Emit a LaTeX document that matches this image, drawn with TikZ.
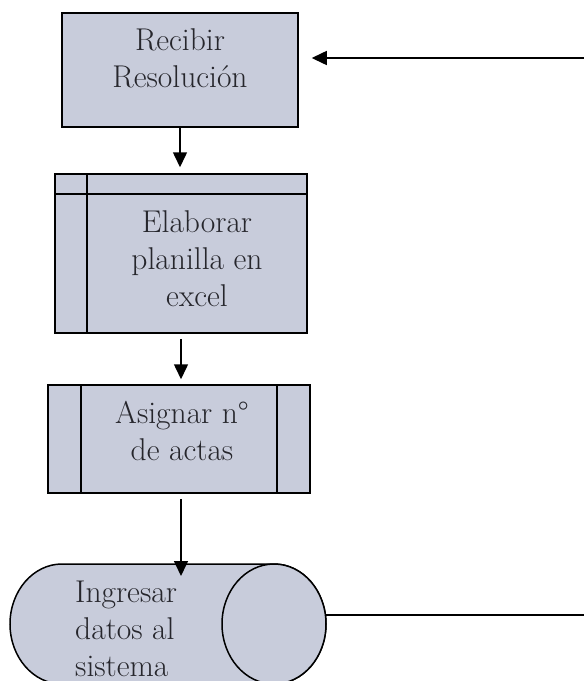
\documentclass[tikz,border=0pt]{standalone}
\usepackage{fontspec}
\usetikzlibrary{arrows.meta}
\definecolor{boxfill}{RGB}{200,204,219}
\definecolor{txt}{RGB}{38,38,44}
\newcommand{\blocktext}[2]{\parbox[t]{#1}{#2}}
\begin{document}
\begin{tikzpicture}[x=1pt,y=1pt,
  process/.style={draw=black, line width=1.5pt, fill=boxfill, inner sep=0pt},
  flow/.style={line width=1.5pt, -{Triangle[length=15pt,width=14pt]}},
  plain/.style={line width=1.5pt},
  label/.style={inner sep=0pt, anchor=base, text=txt, font=\fontsize{31.5}{37}\selectfont}]
\useasboundingbox (0,0) rectangle (584,-681);

% process boxes
\node[process, minimum width=236pt, minimum height=114pt] (recibir) at (180,-70) {};
\node[process, minimum width=252pt, minimum height=159pt] (planilla) at (181,-253.5) {};
\node[process, minimum width=262pt, minimum height=108pt] (asignar) at (179,-439) {};

% internal storage marks and predefined-process bars
\draw[plain] (87,0 |- planilla.north) -- (87,0 |- planilla.south);
\draw[plain] (planilla.west |- 0,-194) -- (planilla.east |- 0,-194);
\draw[plain] (81,0 |- asignar.north) -- (81,0 |- asignar.south);
\draw[plain] (277,0 |- asignar.north) -- (277,0 |- asignar.south);

% horizontal cylinder (database)
\draw[plain, fill=boxfill]
  (62,-564) -- (274,-564) arc[start angle=90, end angle=-90, x radius=52, y radius=60]
  -- (62,-684) arc[start angle=270, end angle=90, x radius=52, y radius=60] -- cycle;
\draw[plain, fill=boxfill] (274,-624) ellipse[x radius=52, y radius=60];
\coordinate (cyltop) at (181,-564);
\coordinate (cylout) at (325.4,-615);

% texts
\node[label] (t1) at (180,-50) {\blocktext{220pt}{\centering Recibir\\Resolución}};
\node[label] (t2) at (197,-232) {\blocktext{200pt}{\centering Elaborar\\planilla en\\excel}};
\node[label] (t3) at (182,-423) {\blocktext{200pt}{\centering Asignar n°\\de actas}};
\node[label, anchor=base west] (t4) at (75,-602) {\blocktext{130pt}{\raggedright Ingresar\\datos al\\sistema}};

% connectors
\coordinate (inflow) at (584,-58);
\coordinate (outflow) at (584,-615);
\draw[flow, shorten >=13pt] (inflow) -- (recibir.east |- inflow);
\draw[flow, shorten >=6pt] (recibir.south) -- (recibir.south |- planilla.north);
\draw[flow, shorten <=5pt, shorten >=5pt] (planilla.south) -- (planilla.south |- asignar.north);
\draw[flow, shorten <=5pt, shorten >=-12pt] (asignar.south -| cyltop) -- (cyltop);
\draw[plain] (cylout) -- (outflow);
\end{tikzpicture}
\end{document}
